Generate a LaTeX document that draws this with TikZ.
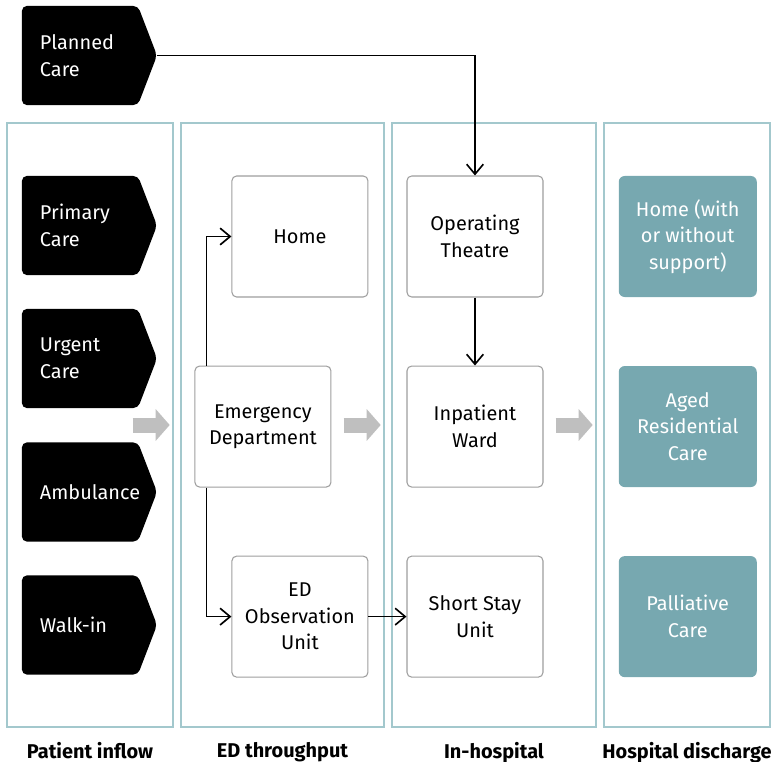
\documentclass[tikz,border=0pt]{standalone}
\usepackage{fontspec}
\setmainfont{Fira Sans}
\usepackage{tikz}
\usetikzlibrary{positioning, arrows.meta, shapes.symbols}
\definecolor{panelline}{HTML}{A3C8CD}
\definecolor{boxline}{HTML}{9E9E9E}
\definecolor{tealbox}{HTML}{77A8B0}
\definecolor{flowgrey}{HTML}{BFBFBF}

\begin{document}
\begin{tikzpicture}[
    x=0.03cm, y=-0.03cm,
    every node/.style={font=\fontsize{17pt}{22.7pt}\selectfont},
    panel/.style={draw=panelline, line width=1.2pt, minimum height=18.12cm},
    inflow/.style={
      shape=signal, signal to=east, signal pointer angle=138,
      fill=black, rounded corners=4pt, inner sep=0pt,
      minimum width=4.05cm, minimum height=2.97cm
    },
    inflowtext/.style={text=white, align=left, anchor=west, inner sep=0pt, xshift=0.54cm},
    stage/.style={
      draw=boxline, fill=white, line width=0.9pt, rounded corners=4pt,
      minimum width=4.08cm, minimum height=3.63cm, align=center
    },
    outcome/.style={
      fill=tealbox, text=white, rounded corners=5pt,
      minimum width=4.14cm, minimum height=3.63cm, align=center
    },
    title/.style={font=\fontsize{17pt}{22.7pt}\selectfont\bfseries, inner sep=0pt},
    link/.style={-{Straight Barb[length=0.3cm, width=0.5cm]}, line width=1.4pt},
    flow/.style={-{Triangle[length=0.42cm, width=0.93cm]}, line width=0.45cm, draw=flowgrey}
]
  \useasboundingbox (0,0) rectangle (773,762);

  % columns
  \node[panel, minimum width=4.98cm] (inflowpanel) at (90,425) {};
  \node[panel, minimum width=6.09cm] (edpanel) at (282.5,425) {};
  \node[panel, minimum width=6.12cm] (hospitalpanel) at (494,425) {};
  \node[panel, minimum width=4.98cm] (dischargepanel) at (687,425) {};

  % patient inflow
  \node[inflow, label={[inflowtext]west:Planned\\Care}] (planned) at (80,55.5) {};
  \node[inflow, label={[inflowtext]west:Primary\\Care}] (primary) at (80,225.5) {};
  \node[inflow, label={[inflowtext]west:Urgent\\Care}] (urgent) at (80,358.5) {};
  \node[inflow, label={[inflowtext]west:Ambulance}] (ambulance) at (80,492) {};
  \node[inflow, label={[inflowtext]west:Walk-in}] (walkin) at (80,625) {};

  % in-hospital
  \node[stage] (theatre) at (475,236.5) {Operating\\Theatre};
  \node[stage, below=2.04cm of theatre] (ward) {Inpatient\\Ward};
  \node[stage, below=2.04cm of ward] (shortstay) {Short Stay\\Unit};

  % ED throughput
  \node[stage, left=1.14cm of theatre] (home) {Home};
  \node[stage, left=2.25cm of ward] (ed) {Emergency\\Department};
  \node[stage, left=1.14cm of shortstay] (obs) {ED\\Observation\\Unit};

  % discharge
  \node[outcome, right=2.25cm of theatre] (homesupport) {Home (with\\or without\\support)};
  \node[outcome, right=2.25cm of ward] (aged) {Aged\\Residential\\Care};
  \node[outcome, right=2.25cm of shortstay] (palliative) {Palliative\\Care};

  \draw[link] (planned.east) -| (theatre.north);
  \draw[link] (theatre) -- (ward);
  \draw[link] ([xshift=0.36cm]ed.north west) |- (home.west);
  \draw[link] ([xshift=0.36cm]ed.south west) |- (obs.west);
  \draw[link] (obs) -- (shortstay);

  \draw[flow] ([xshift=-1.23cm]inflowpanel.east) -- ([xshift=-0.12cm]inflowpanel.east);
  \draw[flow] ([xshift=-1.23cm]edpanel.east) -- ([xshift=-0.12cm]edpanel.east);
  \draw[flow] ([xshift=-1.23cm]hospitalpanel.east) -- ([xshift=-0.12cm]hospitalpanel.east);

  \node[title, below=0.42cm of inflowpanel] (t1) {Patient inflow};
  \node[title, below=0.42cm of edpanel] (t2) {ED throughput};
  \node[title, below=0.42cm of hospitalpanel] (t3) {In-hospital};
  \node[title, below=0.42cm of dischargepanel] (t4) {Hospital discharge};
\end{tikzpicture}
\end{document}
